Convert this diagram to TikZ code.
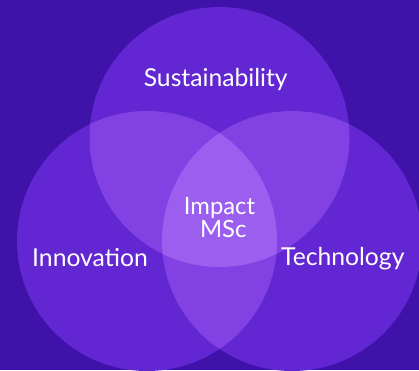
\documentclass[tikz,border=0pt]{standalone}
\usepackage{fontspec}
\setmainfont{Lato}
\definecolor{bgcol}{HTML}{3F13AA}
\definecolor{onecol}{HTML}{6326D3}
\definecolor{twocol}{HTML}{8242E3}
\definecolor{threecol}{HTML}{9C5EEE}
\tikzset{
  lbl/.style={text=white, font=\fontsize{24.7}{20}\selectfont, inner sep=0pt, anchor=base},
  midlbl/.style={lbl, font=\fontsize{23.8}{20}\selectfont},
}
\begin{document}
\begin{tikzpicture}[x=1pt,y=-1pt]
\useasboundingbox (0,0) rectangle (419,370);
\clip (0,0) rectangle (419,370);
\fill[bgcol] (0,0) rectangle (419,370);
\coordinate (ct) at (219.5,137);
\coordinate (cl) at (147,241);
\coordinate (cr) at (292,241);
\def\rr{130}
\fill[onecol] (ct) circle (\rr) (cl) circle (\rr) (cr) circle (\rr);
\begin{scope}
  \clip (ct) circle (\rr);
  \fill[twocol] (cl) circle (\rr) (cr) circle (\rr);
\end{scope}
\begin{scope}
  \clip (cl) circle (\rr);
  \fill[twocol] (cr) circle (\rr);
\end{scope}
\begin{scope}
  \clip (ct) circle (\rr);
  \clip (cl) circle (\rr);
  \fill[threecol] (cr) circle (\rr);
\end{scope}
\node[lbl] (sus) at (215.7,86) {Sustainability};
\node[lbl] (inn) at (90,266.5) {Innovation};
\node[lbl] (tec) at (342.8,265.7) {Technology};
\node[midlbl, text depth=0pt] (imp) at (219.5,214.5) {Impact};
\node[midlbl] (msc) at (223.2,237.5) {MSc};
\end{tikzpicture}
\end{document}
